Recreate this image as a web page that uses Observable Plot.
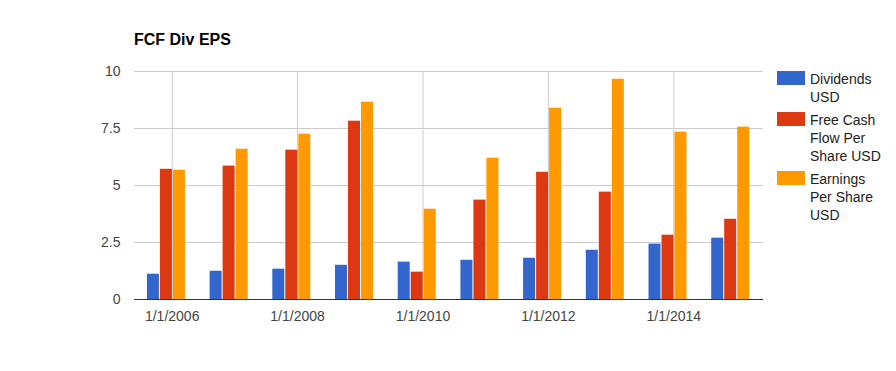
<!DOCTYPE html>
<html>
<head>
<meta charset="utf-8">
<script src="https://cdn.jsdelivr.net/npm/d3@7"></script>
<script src="https://cdn.jsdelivr.net/npm/@observablehq/plot@0.6"></script>
<style>
  html, body { margin: 0; padding: 0; background: #fff; }
  #wrap { position: relative; width: 896px; height: 371px; font-family: Arial, "Liberation Sans", sans-serif; }
  #chart { position: absolute; left: 0; top: 0; }
  #title { position: absolute; left: 134px; top: 31px; font-size: 16px; line-height: 18px; font-weight: bold; color: #000; white-space: nowrap; }
  .leg { position: absolute; left: 777px; font-size: 14px; line-height: 18px; color: #222; }
  .sw { position: absolute; left: 0; width: 28px; height: 14px; }
  .lt { position: absolute; left: 33px; white-space: nowrap; }
</style>
</head>
<body>
<div id="wrap">
  <div id="chart"></div>
  <div id="title"></div>
  <div id="legend"></div>
</div>
<script>
const years = [2006, 2007, 2008, 2009, 2010, 2011, 2012, 2013, 2014, 2015];
const dividends = [1.11, 1.24, 1.33, 1.50, 1.64, 1.72, 1.81, 2.16, 2.43, 2.69];
const freeCashFlow = [5.71, 5.85, 6.55, 7.82, 1.20, 4.36, 5.58, 4.71, 2.82, 3.52];
const earnings = [5.67, 6.59, 7.25, 8.65, 3.96, 6.20, 8.39, 9.66, 7.34, 7.56];
const seriesNames = ["Dividends USD", "Free Cash Flow Per Share USD", "Earnings Per Share USD"];
const legendLines = [["Dividends", "USD"], ["Free Cash", "Flow Per", "Share USD"], ["Earnings", "Per Share", "USD"]];
const colors = ["#3366cc", "#dc3912", "#ff9900"];
const xTicks = [2006, 2008, 2010, 2012, 2014];
const yTicks = [0, 2.5, 5, 7.5, 10];
const titleText = "FCF Div EPS";

const seriesValues = [dividends, freeCashFlow, earnings];
const rows = years.flatMap((yr, i) => seriesValues.map((arr, s) => ({year: yr, s, series: seriesNames[s], value: arr[i]})));

// geometry (in year units of the linear x scale)
const pxPerYear = 62.7;
const shift = 0.092;            // group centre sits slightly before Jan 1
const step = 13 / pxPerYear;    // distance between bars within a group
const hw = 6 / pxPerYear;       // half bar width

const chart = Plot.plot({
  width: 896,
  height: 371,
  marginLeft: 134,
  marginRight: 133,
  marginTop: 71,
  marginBottom: 72,
  style: {fontFamily: 'Arial, "Liberation Sans", sans-serif', fontSize: "14px", background: "#fff"},
  x: {type: "linear", domain: [2005.399, 2015.431], label: null},
  y: {domain: [0, 10], label: null},
  color: {domain: seriesNames, range: colors},
  marks: [
    Plot.gridY(yTicks, {stroke: "#cccccc", strokeOpacity: 1}),
    Plot.gridX(xTicks, {stroke: "#cccccc", strokeOpacity: 1}),
    Plot.rectY(rows, {
      x1: d => d.year - shift + (d.s - 1) * step - hw,
      x2: d => d.year - shift + (d.s - 1) * step + hw,
      y: "value",
      fill: "series"
    }),
    Plot.ruleY([0], {stroke: "#333333", strokeWidth: 1}),
    Plot.axisY(yTicks, {tickSize: 0, tickPadding: 14, tickFormat: d => String(d), fill: "#444", fontSize: 14, label: null}),
    Plot.axisX(xTicks, {tickSize: 0, tickPadding: 12, tickFormat: d => `1/1/${d}`, fill: "#444", fontSize: 14, label: null})
  ]
});
document.getElementById("chart").appendChild(chart);
document.getElementById("title").textContent = titleText;

const legend = document.getElementById("legend");
const legendTops = [71, 112, 171];
legendLines.forEach((lines, i) => {
  const item = document.createElement("div");
  item.className = "leg";
  item.style.top = legendTops[i] + "px";
  const sw = document.createElement("div");
  sw.className = "sw";
  sw.style.background = colors[i];
  item.appendChild(sw);
  const t = document.createElement("div");
  t.className = "lt";
  t.style.top = "-1px";
  t.innerHTML = lines.join("<br>");
  item.appendChild(t);
  legend.appendChild(item);
});
</script>
</body>
</html>
